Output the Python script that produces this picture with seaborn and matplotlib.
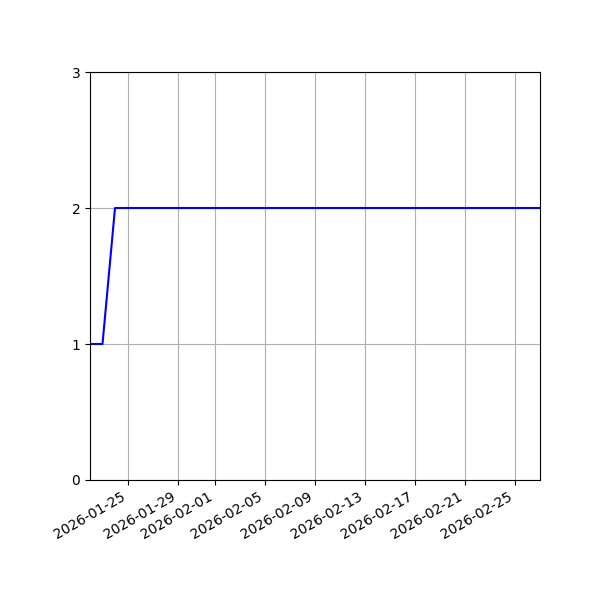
import matplotlib
matplotlib.use("Agg")
import matplotlib.pyplot as plt
import seaborn as sns
import pandas as pd

dates = pd.date_range("2026-01-22", "2026-02-27", freq="D")
values = [1, 1] + [2] * (len(dates) - 2)

df = pd.DataFrame({"date": dates, "value": values})

fig, ax = plt.subplots(figsize=(6, 6), dpi=100)
sns.lineplot(data=df, x="date", y="value", ax=ax, color="blue", linewidth=1.5)
ax.set_xlim(dates[0], dates[-1])
ax.set_ylim(0, 3)
ax.set_yticks([0, 1, 2, 3])
ax.set_xlabel("")
ax.set_ylabel("")
ax.grid(True)
fig.autofmt_xdate()
fig.subplots_adjust(left=0.15, right=0.9, top=0.88, bottom=0.2)
fig.savefig("out.png", dpi=100)
